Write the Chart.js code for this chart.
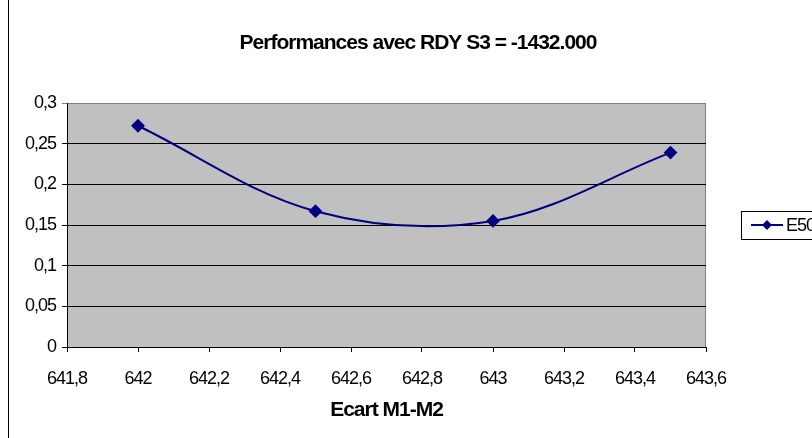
<!DOCTYPE html>
<html>
<head>
<meta charset="utf-8">
<script src="https://cdn.jsdelivr.net/npm/chart.js@4/dist/chart.umd.min.js"></script>
<style>
  html, body { margin: 0; padding: 0; background: #fff; width: 812px; height: 438px; overflow: hidden; }
  #wrap { position: absolute; left: 0; top: 0; width: 836px; height: 438px; }
</style>
</head>
<body>
<div id="wrap"><canvas id="c" width="836" height="438"></canvas></div>
<script>
// Measured performance for each M1-M2 gap
const ecart = [642, 642.5, 643, 643.5];
const e50 = [0.272, 0.167, 0.155, 0.239];
const seriesName = 'E50';
const chartTitle = 'Performances avec RDY S3 = -1432.000';
const xAxisTitle = 'Ecart M1-M2';
const xTicks = [641.8, 642, 642.2, 642.4, 642.6, 642.8, 643, 643.2, 643.4, 643.6];
const yTicks = [0, 0.05, 0.1, 0.15, 0.2, 0.25, 0.3];

const NAVY = '#000080';
const FONT = "'Liberation Sans', Arial, sans-serif";

// French decimal format: comma separator, no trailing zero
const fmt = v => String(Math.round(v * 1000) / 1000).replace('.', ',');

// Tight letter spacing for all canvas text
const tightText = {
  id: 'tightText',
  afterInit(chart) { chart.ctx.letterSpacing = '-1px'; },
  beforeDraw(chart) { chart.ctx.letterSpacing = '-1px'; }
};

// Plot background, outer frame, title and legend
const decor = {
  id: 'decor',
  beforeDraw(chart) {
    const { ctx, chartArea: a } = chart;
    ctx.save();
    ctx.fillStyle = '#C0C0C0';
    ctx.fillRect(a.left, a.top, a.right - a.left, a.bottom - a.top);
    ctx.strokeStyle = '#808080';
    ctx.lineWidth = 1;
    ctx.beginPath();
    ctx.moveTo(a.left, a.top + 0.5);
    ctx.lineTo(a.right - 0.5, a.top + 0.5);
    ctx.lineTo(a.right - 0.5, a.bottom);
    ctx.stroke();
    // chart frame
    ctx.strokeStyle = '#000';
    ctx.beginPath();
    ctx.moveTo(8.5, 0);
    ctx.lineTo(8.5, chart.height);
    ctx.stroke();
    // title
    ctx.fillStyle = '#000';
    ctx.font = 'bold 21px ' + FONT;
    ctx.textAlign = 'center';
    ctx.textBaseline = 'middle';
    ctx.fillText(chartTitle, 418, 43);
    ctx.restore();
  },
  afterDraw(chart) {
    const { ctx } = chart;
    ctx.save();
    // legend box
    ctx.strokeStyle = '#000';
    ctx.lineWidth = 1;
    ctx.strokeRect(741.5, 211.5, 110, 28);
    const cy = 225;
    ctx.strokeStyle = NAVY;
    ctx.lineWidth = 2;
    ctx.beginPath();
    ctx.moveTo(751, cy);
    ctx.lineTo(783, cy);
    ctx.stroke();
    ctx.fillStyle = NAVY;
    ctx.beginPath();
    ctx.moveTo(767, cy - 5);
    ctx.lineTo(772, cy);
    ctx.lineTo(767, cy + 5);
    ctx.lineTo(762, cy);
    ctx.closePath();
    ctx.fill();
    ctx.fillStyle = '#000';
    ctx.font = '18px ' + FONT;
    ctx.textAlign = 'left';
    ctx.textBaseline = 'middle';
    ctx.fillText(seriesName, 786, cy + 1);
    ctx.restore();
  }
};

new Chart(document.getElementById('c'), {
  type: 'line',
  data: {
    datasets: [{
      label: seriesName,
      data: ecart.map((x, i) => ({ x, y: e50[i] })),
      borderColor: NAVY,
      backgroundColor: NAVY,
      borderWidth: 2,
      tension: 0.35,
      pointStyle: 'rectRot',
      pointRadius: 5.5,
      pointHoverRadius: 5.5,
      fill: false
    }]
  },
  options: {
    responsive: false,
    animation: false,
    devicePixelRatio: 1,
    layout: { padding: { top: 103, right: 836 - 706, bottom: 0, left: 0 } },
    plugins: {
      legend: { display: false },
      title: { display: false },
      tooltip: { enabled: false }
    },
    scales: {
      x: {
        type: 'linear',
        min: xTicks[0],
        max: xTicks[xTicks.length - 1],
        afterBuildTicks: s => { s.ticks = xTicks.map(v => ({ value: v })); },
        afterFit: s => { s.height = 91; },
        grid: { drawOnChartArea: false, drawTicks: true, tickLength: 5, color: '#000' },
        border: { display: true, color: '#000', width: 1 },
        ticks: {
          callback: v => fmt(v),
          color: '#000',
          font: { family: FONT, size: 18 },
          padding: 16,
          maxRotation: 0,
          autoSkip: false
        },
        title: {
          display: true,
          text: xAxisTitle,
          color: '#000',
          font: { family: FONT, size: 21, weight: 'bold' },
          padding: { top: 0, bottom: 15 }
        }
      },
      y: {
        type: 'linear',
        min: yTicks[0],
        max: yTicks[yTicks.length - 1],
        afterBuildTicks: s => { s.ticks = yTicks.map(v => ({ value: v })); },
        afterFit: s => { s.width = 67; },
        grid: {
          drawOnChartArea: true,
          drawTicks: true,
          tickLength: 5,
          color: ctx => (ctx.tick && ctx.tick.value === 0.3) ? '#808080' : '#000'
        },
        border: { display: true, color: '#000', width: 1 },
        ticks: {
          callback: v => fmt(v),
          color: '#000',
          font: { family: FONT, size: 18 },
          padding: 6
        }
      }
    }
  },
  plugins: [tightText, decor]
});
</script>
</body>
</html>
